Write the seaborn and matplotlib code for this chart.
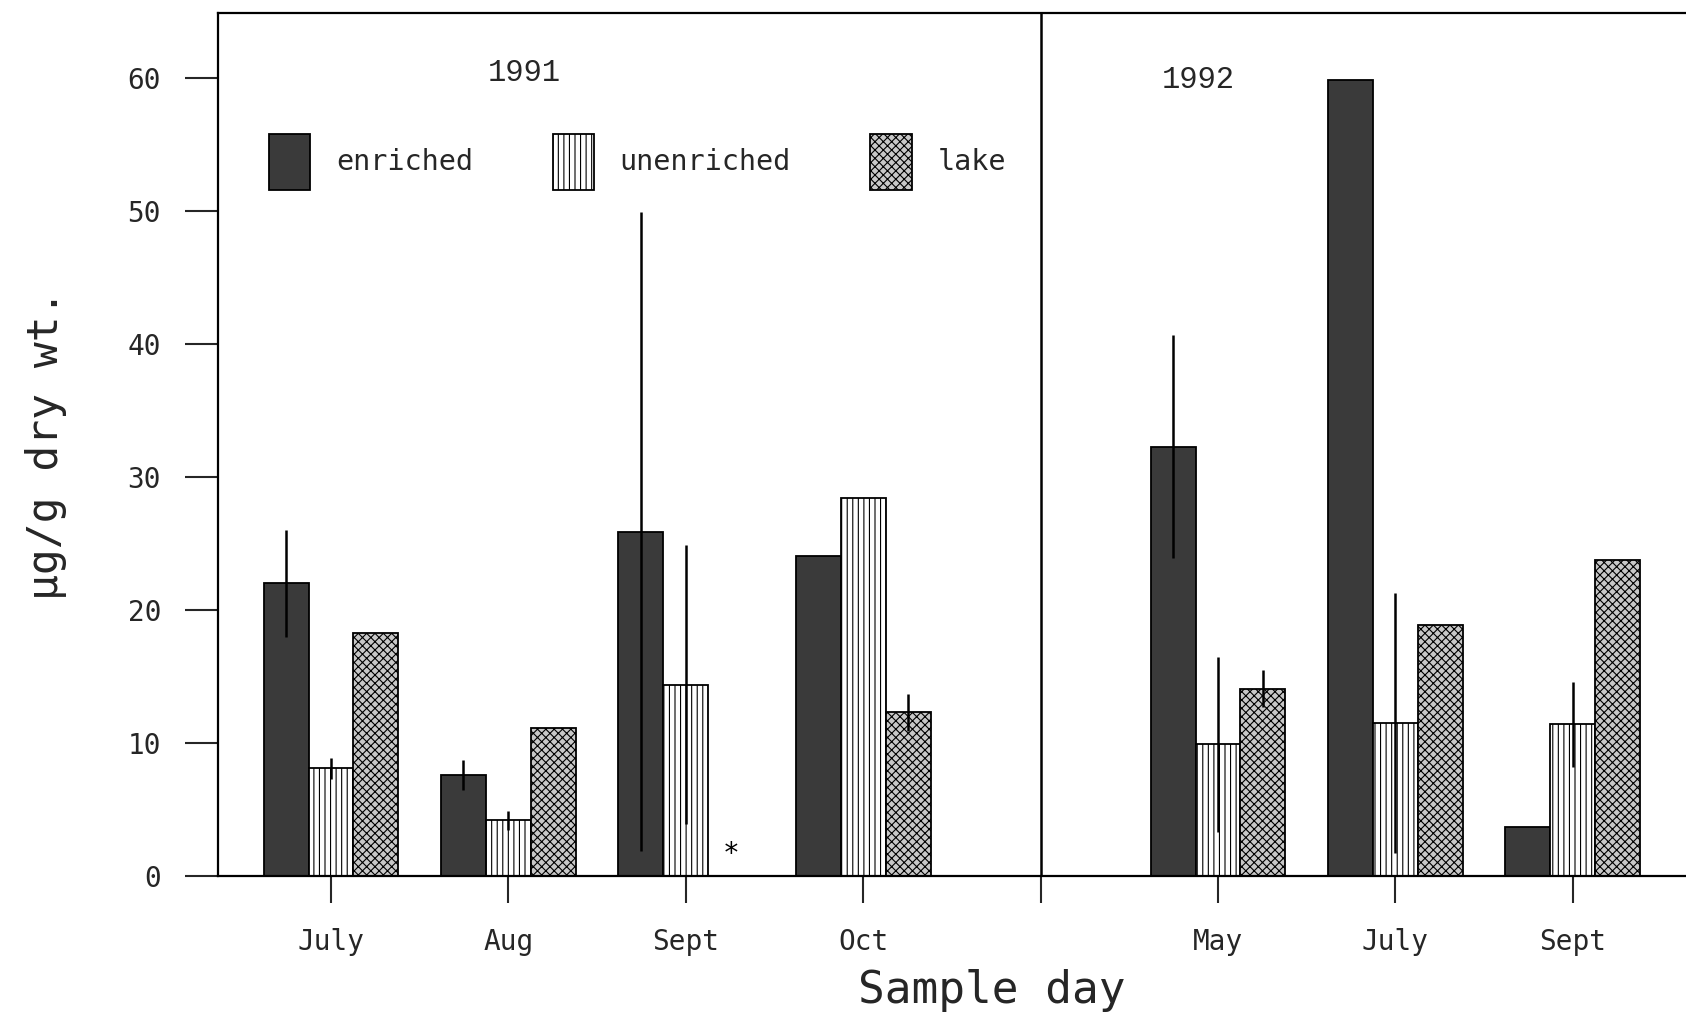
import numpy as np
import pandas as pd
import matplotlib
matplotlib.use("Agg")
import matplotlib.pyplot as plt
from matplotlib.patches import Patch
import seaborn as sns

# ---- data -------------------------------------------------------------
months_1991 = ["July", "Aug", "Sept", "Oct"]
months_1992 = ["May", "July", "Sept"]
treatments = ["enriched", "unenriched", "lake"]

enriched_1991 = [22.0, 7.6, 25.9, 24.1]
unenriched_1991 = [8.1, 4.2, 14.4, 28.4]
lake_1991 = [18.3, 11.1, np.nan, 12.3]   # Sept lake sample missing (*)

enriched_1992 = [32.3, 59.9, 3.7]
unenriched_1992 = [9.9, 11.5, 11.4]
lake_1992 = [14.1, 18.9, 23.8]

err_enriched_1991 = [4.0, 1.1, 24.0, 0.0]
err_unenriched_1991 = [0.8, 0.7, 10.5, 0.0]
err_lake_1991 = [0.0, 0.0, 0.0, 1.4]

err_enriched_1992 = [8.4, 0.0, 0.0]
err_unenriched_1992 = [6.6, 9.8, 3.2]
err_lake_1992 = [1.4, 0.0, 0.0]

year_labels = ["1991", "1992"]
xlabel = "Sample day"
ylabel = "\u00b5g/g dry wt."

# ---- long-form table --------------------------------------------------
keys_1991 = [f"{m} 1991" for m in months_1991]
keys_1992 = [f"{m} 1992" for m in months_1992]
gap_key = "|"
order = keys_1991 + [gap_key] + keys_1992

rows = []
errs = {}
for keys, vals, evals in [
    (keys_1991, [enriched_1991, unenriched_1991, lake_1991],
     [err_enriched_1991, err_unenriched_1991, err_lake_1991]),
    (keys_1992, [enriched_1992, unenriched_1992, lake_1992],
     [err_enriched_1992, err_unenriched_1992, err_lake_1992]),
]:
    for t, series, eseries in zip(treatments, vals, evals):
        for k, v, e in zip(keys, series, eseries):
            errs[(k, t)] = e
            if not np.isnan(v):
                rows.append({"period": k, "treatment": t, "value": v})
df = pd.DataFrame(rows)

# ---- style ------------------------------------------------------------
sns.set_style("ticks")
mono = "DejaVu Sans Mono"
plt.rcParams["font.family"] = [mono, "DejaVu Sans"]
plt.rcParams["hatch.linewidth"] = 0.8
plt.rcParams["axes.linewidth"] = 1.6

palette = {"enriched": "#3a3a3a", "unenriched": "#ffffff", "lake": "#c8c8c8"}
hatches = {"enriched": "", "unenriched": "|||", "lake": "xxxx"}

fig = plt.figure(figsize=(16.86, 10.17), dpi=100)
ax = fig.add_axes([0.1293, 0.1386, 0.8707, 0.8486])

sns.barplot(data=df, x="period", y="value", hue="treatment",
            order=order, hue_order=treatments, palette=palette,
            width=0.76, saturation=1, edgecolor="black", linewidth=1.3,
            errorbar=None, legend=False, ax=ax)

# hatching and error bars
lake_offset = None
for t, container in zip(treatments, ax.containers):
    for bar in container:
        bar.set_hatch(hatches[t])
        cx = bar.get_x() + bar.get_width() / 2
        idx = int(round(cx))
        h = bar.get_height()
        e = errs.get((order[idx], t), 0.0)
        if t == "lake":
            lake_offset = cx - idx
        if e > 0:
            ax.vlines(cx, h - e, h + e, color="black", lw=1.8, zorder=5)

# missing lake sample marker
sept_idx = order.index("Sept 1991")
ax.text(sept_idx + lake_offset, 0.6, "*", ha="center", va="bottom",
        fontsize=20, color="black")

# divider between the two seasons
gap_idx = order.index(gap_key)
ax.axvline(gap_idx, color="black", lw=1.8, zorder=4)

# axes limits, ticks
ax.set_xlim(-0.637, 7.638)
ax.set_ylim(0, 64.9)
ax.set_yticks([0, 10, 20, 30, 40, 50, 60])
ax.set_xticks(range(len(order)))
ax.set_xticklabels(months_1991 + [""] + months_1992)
ax.tick_params(axis="y", length=24, width=1.5, pad=17, direction="out",
               labelsize=20)
ax.tick_params(axis="x", length=19.5, width=1.5, pad=18, direction="out",
               labelsize=20)

ax.spines["right"].set_visible(False)
for s in ["top", "left", "bottom"]:
    ax.spines[s].set_visible(True)
    ax.spines[s].set_color("black")

ax.set_xlabel(xlabel, fontsize=32)
ax.xaxis.set_label_coords(0.527, -0.108)
ax.set_ylabel(ylabel, fontsize=31)
ax.yaxis.set_label_coords(-0.103, 0.5)

# year captions
ax.text(1.09, 60.4, year_labels[0], ha="center", va="center",
        fontsize=22, family="Liberation Mono")
ax.text(4.89, 59.9, year_labels[1], ha="center", va="center",
        fontsize=22, family="Liberation Mono")

# legend
handles = [Patch(facecolor=palette[t], edgecolor="black", hatch=hatches[t],
                 linewidth=1.3) for t in treatments]
ax.legend(handles, treatments, ncol=3, loc="upper left",
          bbox_to_anchor=(0.0347, 0.86), frameon=False,
          handlelength=1.45, handleheight=2.65, handletextpad=0.9,
          columnspacing=2.8, borderpad=0, borderaxespad=0,
          prop={"family": mono, "size": 20.5})

fig.savefig("out.png", dpi=100, facecolor="white")
